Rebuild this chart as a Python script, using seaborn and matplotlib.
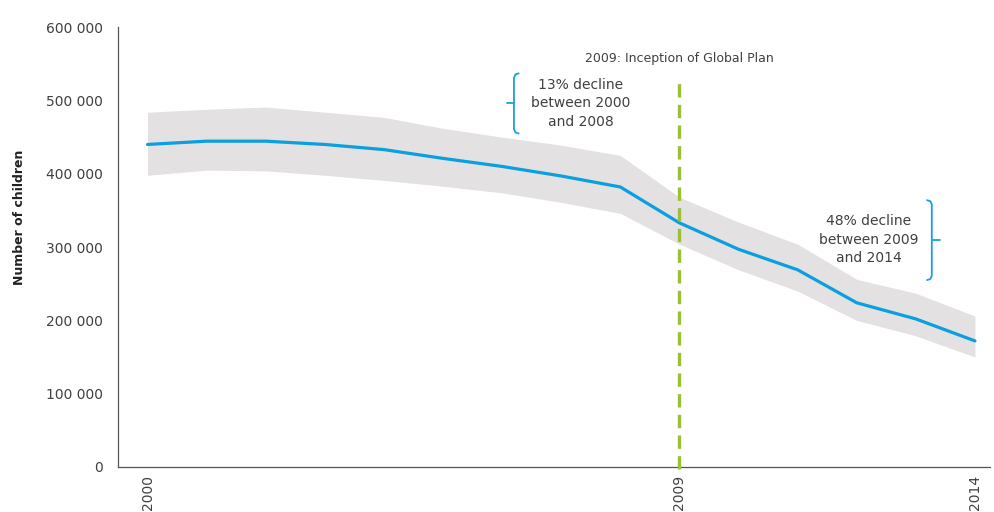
import numpy as np
import pandas as pd
import matplotlib
matplotlib.use("Agg")
import matplotlib.pyplot as plt
import seaborn as sns

years = [2000, 2001, 2002, 2003, 2004, 2005, 2006, 2007, 2008, 2009, 2010, 2011, 2012, 2013, 2014]
central = [440000, 444500, 444500, 440000, 433000, 421000, 410000, 397000, 382000, 333000, 297000, 269000, 224000, 202000, 172000]
upper = [484000, 488000, 491000, 484000, 477000, 462000, 450000, 439000, 425000, 368000, 334000, 304000, 256000, 237000, 206000]
lower = [398000, 405000, 404000, 398000, 391000, 383000, 374000, 361000, 346000, 304000, 269000, 240000, 200000, 179000, 150000]
xtick_years = [2000, 2009, 2014]
yticks = [0, 100000, 200000, 300000, 400000, 500000, 600000]
ylabel = "Number of children"
plan_label = "2009: Inception of Global Plan"
note1 = "13% decline\nbetween 2000\nand 2008"
note2 = "48% decline\nbetween 2009\nand 2014"

sns.set_style("white")
plt.rcParams['font.family'] = ['DejaVu Sans']

df = pd.DataFrame({"year": years, "central": central, "upper": upper, "lower": lower})

fig = plt.figure(figsize=(9.94, 5.12), dpi=100)
ax = fig.add_axes([0.1187, 0.0879, 0.877, 0.859])

ax.fill_between(df["year"], df["lower"], df["upper"], color="#e3e1e2", lw=0, zorder=1)
sns.lineplot(data=df, x="year", y="central", color="#0a9fdf", lw=2.3, ax=ax, zorder=3)

ax.set_xlim(1999.5, 2014.25)
ax.set_ylim(0, 600000)

txtc = "#404040"

# vertical dashed line
ax.plot([2009, 2009], [-3000, 530000], color="#9bbf35", lw=2.4, ls=(0, (4.0, 2.2)), zorder=4,
        clip_on=False)
ax.text(2009, 548000, plan_label, ha="center", va="bottom", fontsize=9, color=txtc)

# braces
bc = "#1a9fe0"
def brace(x, y0, y1, hook, tip):
    ym = (y0 + y1) / 2
    ax.plot([x + hook, x + hook * 0.3, x, x, x + hook * 0.3, x + hook],
            [y1, y1 - 1500, y1 - 6000, y0 + 6000, y0 + 1500, y0], color=bc, lw=1.3,
            solid_joinstyle="round", solid_capstyle="round", clip_on=False)
    ax.plot([x, x + tip], [ym, ym], color=bc, lw=1.3)

brace(2006.2, 455000, 537000, 0.08, -0.12)
ax.text(2007.33, 496000, note1, ha="center", va="center", fontsize=10, color=txtc, linespacing=1.4)
brace(2013.27, 255000, 364000, -0.08, 0.14)
ax.text(2012.2, 310000, note2, ha="center", va="center", fontsize=10, color=txtc, linespacing=1.4)

ax.set_xticks(xtick_years)
ax.set_xticklabels([str(y) for y in xtick_years], rotation=90, fontsize=10, color=txtc)
ax.set_yticks(yticks)
ax.set_yticklabels([f"{v:,}".replace(",", " ") for v in yticks], fontsize=10, color=txtc)
ax.tick_params(axis="y", length=5, width=0.8, color="#555555", pad=6)
ax.tick_params(axis="x", length=0, pad=6)
ax.set_xlabel("")
ax.set_ylabel(ylabel, fontsize=9, fontweight="bold", color="#222222")
ax.yaxis.set_label_coords(-0.106, 0.568)

for s in ["top", "right"]:
    ax.spines[s].set_visible(False)
for s in ["left", "bottom"]:
    ax.spines[s].set_color("#555555")
    ax.spines[s].set_linewidth(0.9)

fig.savefig("out.png", dpi=100)
